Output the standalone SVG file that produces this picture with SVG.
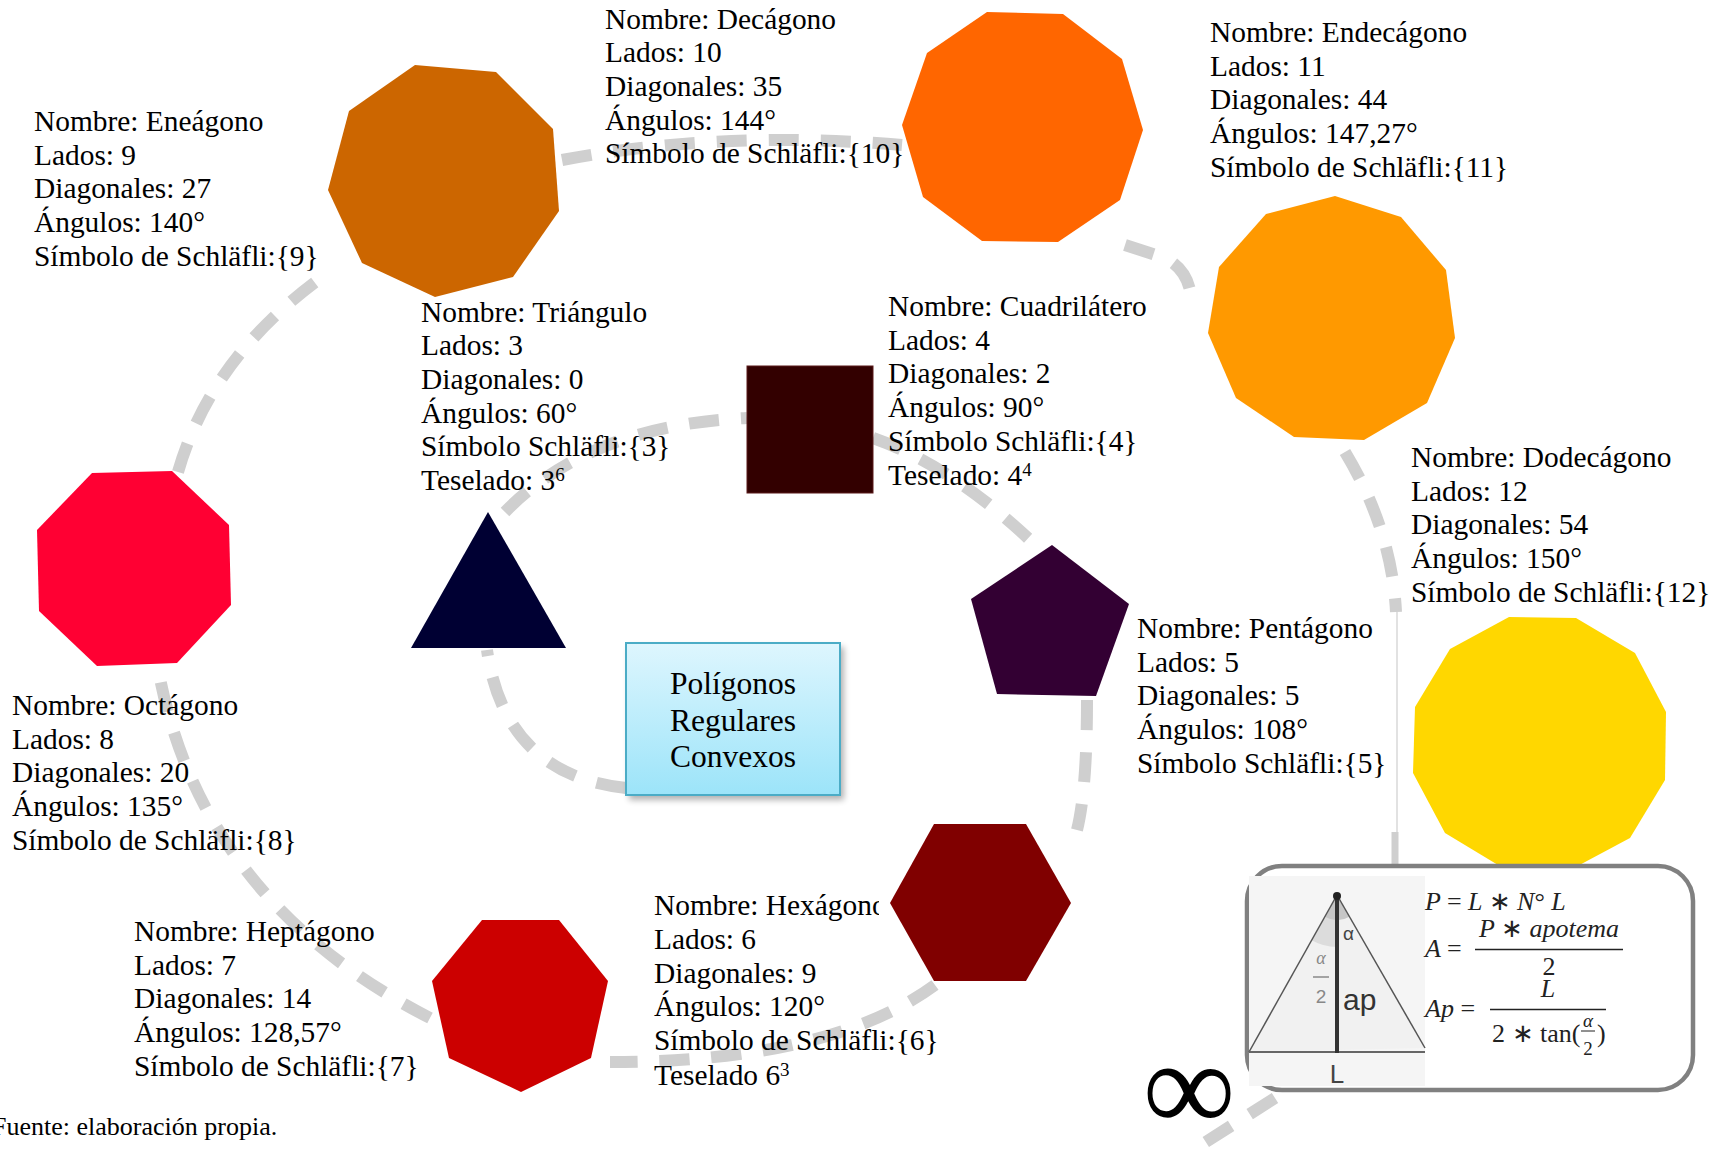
<svg xmlns="http://www.w3.org/2000/svg" width="1717" height="1149" viewBox="0 0 1717 1149">
<style>
.lbl{font-family:"Liberation Serif","Times New Roman",serif;font-size:29.4px;fill:#000}
.sup{font-size:19px}
.con{fill:none;stroke:#CFCFCF;stroke-width:12;stroke-dasharray:30 22}
.ctr{font-family:"Liberation Serif","Times New Roman",serif;font-size:31.5px;fill:#000;text-anchor:middle}
.mth{font-family:"Liberation Serif","Times New Roman",serif;font-size:26px;fill:#222;font-style:italic}
.mth.sm{font-size:19px}
.mup{font-style:normal}
.sans{font-family:"Liberation Sans",Arial,sans-serif}
.src{font-family:"Liberation Serif","Times New Roman",serif;font-size:26px;fill:#000}
</style>
<defs>
<linearGradient id="boxg" x1="0" y1="0" x2="0" y2="1">
<stop offset="0" stop-color="#DEF6FE"/>
<stop offset="1" stop-color="#9CE4F9"/>
</linearGradient>
<filter id="shadow" x="-10%" y="-10%" width="130%" height="130%">
<feGaussianBlur stdDeviation="3"/>
</filter>
<clipPath id="hexclip"><rect x="0" y="880" width="879" height="60"/></clipPath>
</defs>
<rect width="1717" height="1149" fill="#FFFFFF"/>

<g id="connectors">
<path class="con" d="M626,788 Q505,775 487,650"/>
<path class="con" d="M505,512 Q590,425 747,418"/>
<path class="con" d="M873,438 Q950,465 1030,540"/>
<path class="con" d="M1087,700 Q1087,790 1077,830"/>
<path class="con" d="M935,985 Q830,1062 610,1062"/>
<path class="con" d="M430,1018 Q200,900 158,668"/>
<path class="con" d="M178,472 Q210,360 318,280"/>
<path class="con" d="M562,160 Q720,130 902,145"/>
<path class="con" d="M1125,245 L1165,258 Q1185,268 1190,290"/>
<path class="con" d="M1345,452 Q1392,530 1396,612"/>
<line x1="1397" y1="612" x2="1397" y2="832" stroke="#E2E2E2" stroke-width="2"/>
<line x1="1395" y1="832" x2="1395" y2="866" stroke="#CFCFCF" stroke-width="7"/>
<path class="con" d="M1275,1098 L1190,1152"/>
</g>

<g id="eneagono">
<polygon points="415,65 496,72 553,129 559,211 513,277 435,297 362,263 328,190 349,111" fill="#CC6600"/>
<text class="lbl" x="34" y="131"><tspan x="34">Nombre: Eneágono</tspan><tspan x="34" dy="33.7">Lados: 9</tspan><tspan x="34" dy="33.7">Diagonales: 27</tspan><tspan x="34" dy="33.7">Ángulos: 140°</tspan><tspan x="34" dy="33.7">Símbolo de Schläfli:{9}</tspan></text>
</g>

<g id="decagono">
<polygon points="987,12 1063,14 1122,59 1143,130 1120,200 1058,242 982,241 923,197 902,125 927,53" fill="#FF6600"/>
<text class="lbl" x="605" y="28.5"><tspan x="605">Nombre: Decágono</tspan><tspan x="605" dy="33.7">Lados: 10</tspan><tspan x="605" dy="33.7">Diagonales: 35</tspan><tspan x="605" dy="33.7">Ángulos: 144°</tspan><tspan x="605" dy="33.7">Símbolo de Schläfli:{10}</tspan></text>
</g>

<g id="endecagono">
<polygon points="1335,196 1401,217 1446,270 1455,338 1427,403 1364,440 1294,437 1236,398 1208,333 1219,267 1266,214" fill="#FF9900"/>
<text class="lbl" x="1210" y="42"><tspan x="1210">Nombre: Endecágono</tspan><tspan x="1210" dy="33.7">Lados: 11</tspan><tspan x="1210" dy="33.7">Diagonales: 44</tspan><tspan x="1210" dy="33.7">Ángulos: 147,27°</tspan><tspan x="1210" dy="33.7">Símbolo de Schläfli:{11}</tspan></text>
</g>

<g id="dodecagono">
<polygon points="1509,617 1576,618 1635,653 1666,712 1665,780 1630,838 1572,869 1503,868 1445,833 1413,773 1415,707 1450,649" fill="#FFD700"/>
<text class="lbl" x="1411" y="467"><tspan x="1411">Nombre: Dodecágono</tspan><tspan x="1411" dy="33.7">Lados: 12</tspan><tspan x="1411" dy="33.7">Diagonales: 54</tspan><tspan x="1411" dy="33.7">Ángulos: 150°</tspan><tspan x="1411" dy="33.7">Símbolo de Schläfli:{12}</tspan></text>
</g>

<g id="octagono">
<polygon points="92,473 172,471 229,525 231,605 177,663 97,666 39,611 37,530" fill="#FF0033"/>
<text class="lbl" x="12" y="715"><tspan x="12">Nombre: Octágono</tspan><tspan x="12" dy="33.7">Lados: 8</tspan><tspan x="12" dy="33.7">Diagonales: 20</tspan><tspan x="12" dy="33.7">Ángulos: 135°</tspan><tspan x="12" dy="33.7">Símbolo de Schläfli:{8}</tspan></text>
</g>

<g id="heptagono">
<polygon points="482,920 559,920 608,981 591,1058 521,1092 449,1058 432,981" fill="#CC0000"/>
<text class="lbl" x="134" y="941"><tspan x="134">Nombre: Heptágono</tspan><tspan x="134" dy="33.7">Lados: 7</tspan><tspan x="134" dy="33.7">Diagonales: 14</tspan><tspan x="134" dy="33.7">Ángulos: 128,57°</tspan><tspan x="134" dy="33.7">Símbolo de Schläfli:{7}</tspan></text>
</g>

<g id="hexagono">
<polygon points="934,824 1026,824 1071,903 1026,981 934,981 890,903" fill="#800000"/>
<text class="lbl" x="654" y="915" clip-path="url(#hexclip)">Nombre: Hexágono</text>
<text class="lbl" x="654" y="949"><tspan x="654">Lados: 6</tspan><tspan x="654" dy="33.7">Diagonales: 9</tspan><tspan x="654" dy="33.7">Ángulos: 120°</tspan><tspan x="654" dy="33.7">Símbolo de Schläfli:{6}</tspan><tspan x="654" dy="34.5">Teselado 6</tspan><tspan class="sup" dy="-9">3</tspan></text>
</g>

<g id="triangulo">
<polygon points="488,512 566,648 411,648" fill="#000033"/>
<text class="lbl" x="421" y="321.5"><tspan x="421">Nombre: Triángulo</tspan><tspan x="421" dy="33.7">Lados: 3</tspan><tspan x="421" dy="33.7">Diagonales: 0</tspan><tspan x="421" dy="33.7">Ángulos: 60°</tspan><tspan x="421" dy="33.7">Símbolo Schläfli:{3}</tspan><tspan x="421" dy="33.7">Teselado: 3</tspan><tspan class="sup" dy="-9">6</tspan></text>
</g>

<g id="cuadrilatero">
<rect x="747" y="366" width="126" height="127" fill="#330000" stroke="#5a1a1a" stroke-width="1"/>
<text class="lbl" x="888" y="316"><tspan x="888">Nombre: Cuadrilátero</tspan><tspan x="888" dy="33.7">Lados: 4</tspan><tspan x="888" dy="33.7">Diagonales: 2</tspan><tspan x="888" dy="33.7">Ángulos: 90°</tspan><tspan x="888" dy="33.7">Símbolo Schläfli:{4}</tspan><tspan x="888" dy="34.5">Teselado: 4</tspan><tspan class="sup" dy="-9">4</tspan></text>
</g>

<g id="pentagono">
<polygon points="1052,545 1129,604 1096,696 997,694 971,599" fill="#330033"/>
<text class="lbl" x="1137" y="638"><tspan x="1137">Nombre: Pentágono</tspan><tspan x="1137" dy="33.7">Lados: 5</tspan><tspan x="1137" dy="33.7">Diagonales: 5</tspan><tspan x="1137" dy="33.7">Ángulos: 108°</tspan><tspan x="1137" dy="33.7">Símbolo Schläfli:{5}</tspan></text>
</g>

<g id="centro">
<rect x="629" y="647" width="215" height="153" fill="#000" opacity="0.3" filter="url(#shadow)"/>
<rect x="626" y="643" width="214" height="152" fill="url(#boxg)" stroke="#4BACC6" stroke-width="2"/>
<text class="ctr" x="733" y="694">Polígonos</text>
<text class="ctr" x="733" y="731">Regulares</text>
<text class="ctr" x="733" y="767">Convexos</text>
</g>

<g id="formulas">
<rect x="1247" y="866" width="446" height="224" rx="35" ry="35" fill="#FFFFFF" stroke="#808080" stroke-width="4.5"/>
<rect x="1249" y="876" width="176" height="210" fill="#F5F5F5"/>
<polygon points="1337,895 1425,1048 1249,1052" fill="#F1F1F1"/>
<path d="M1337,895 L1311.6,940.3 A52,52 0 0 0 1337,947 Z" fill="#DCDCDC"/>
<path d="M1337,895 L1324.8,916.8 A25,25 0 0 0 1349.5,916.7 Z" fill="#C6C6C6"/>
<line x1="1337" y1="895" x2="1249" y2="1052" stroke="#555" stroke-width="1.5"/>
<line x1="1337" y1="895" x2="1425" y2="1048" stroke="#555" stroke-width="1.5"/>
<line x1="1249" y1="1052" x2="1425" y2="1052" stroke="#666" stroke-width="2"/>
<line x1="1337" y1="895" x2="1337" y2="1053" stroke="#333" stroke-width="4"/>
<circle cx="1337" cy="896" r="4" fill="#222"/>
<text class="sans" x="1343" y="940" font-size="19" fill="#444">α</text>
<text x="1321" y="964" font-family="Liberation Serif,serif" font-style="italic" font-size="18" fill="#888" text-anchor="middle">α</text>
<line x1="1313" y1="977" x2="1329" y2="977" stroke="#888" stroke-width="1.5"/>
<text class="sans" x="1321" y="1003" font-size="19" fill="#888" text-anchor="middle">2</text>
<text class="sans" x="1343" y="1010" font-size="30" fill="#333">ap</text>
<text class="sans" x="1337" y="1083" font-size="26" fill="#444" text-anchor="middle">L</text>
<text class="mth" x="1425" y="910">P <tspan class="mup">=</tspan> L <tspan class="mup">∗</tspan> N<tspan class="mup">°</tspan> L</text>
<text class="mth" x="1425" y="957">A <tspan class="mup">=</tspan></text>
<text class="mth" x="1549" y="937" text-anchor="middle">P <tspan class="mup">∗</tspan> apotema</text>
<line x1="1475" y1="949.5" x2="1623" y2="949.5" stroke="#222" stroke-width="1.5"/>
<text class="mth mup" x="1549" y="975" text-anchor="middle">2</text>
<text class="mth" x="1425" y="1017">Ap <tspan class="mup">=</tspan></text>
<text class="mth" x="1548" y="997" text-anchor="middle">L</text>
<line x1="1490" y1="1009.5" x2="1606" y2="1009.5" stroke="#222" stroke-width="1.5"/>
<text class="mth mup" x="1492" y="1042">2 ∗ tan(</text>
<text class="mth sm" x="1588" y="1027" text-anchor="middle">α</text>
<line x1="1581" y1="1031" x2="1595" y2="1031" stroke="#222" stroke-width="1"/>
<text class="mth sm mup" x="1588" y="1055" text-anchor="middle">2</text>
<text class="mth mup" x="1597" y="1042">)</text>
</g>

<g id="infinito">
<text x="1189" y="1131" font-family="Liberation Serif,serif" font-size="130" text-anchor="middle" fill="#000">∞</text>
</g>

<text class="src" x="-8" y="1135">Fuente: elaboración propia.</text>
</svg>
